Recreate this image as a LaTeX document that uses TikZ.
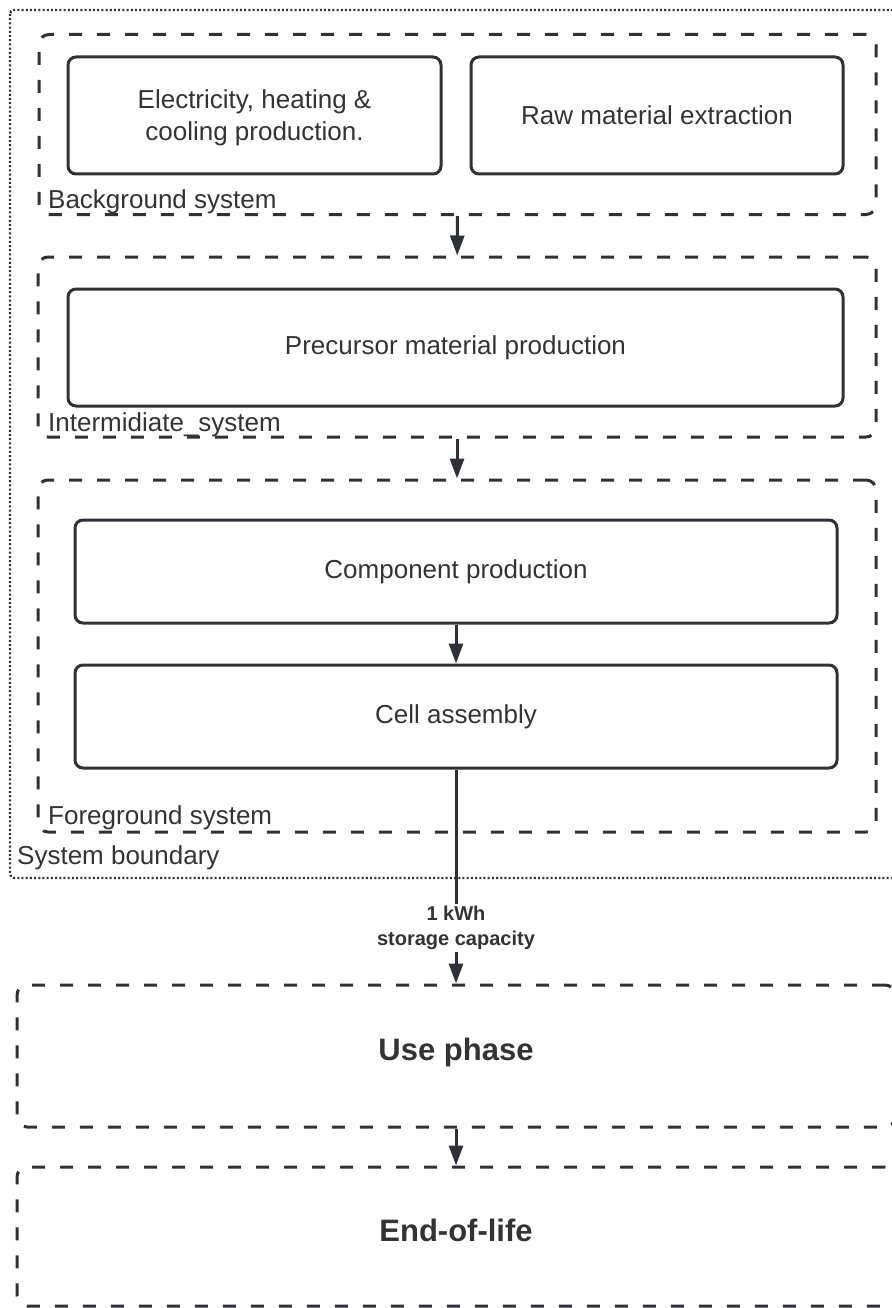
\documentclass[tikz,border=0pt]{standalone}
\usepackage{fontspec}
\setmainfont{Liberation Sans}
\usetikzlibrary{arrows.meta}
\definecolor{ink}{HTML}{2E3138}
\definecolor{txt}{HTML}{333333}
\begin{document}
\begin{tikzpicture}[x=1pt,y=-1pt,
  proc/.style={draw=ink, line width=3pt, rounded corners=8pt, text=txt,
    font=\fontsize{26}{32}\selectfont, align=center, inner sep=0pt},
  group/.style={draw=ink, line width=3pt, dash pattern=on 13pt off 15pt,
    rounded corners=10pt, inner sep=0pt},
  phase/.style={group, text=txt, font=\bfseries\fontsize{31}{37}\selectfont},
  bound/.style={draw=ink, line width=2.4pt, dash pattern=on 2pt off 2.2pt,
    rounded corners=4pt},
  grouplabel/.style={anchor=base west, text=txt,
    font=\fontsize{26}{32}\selectfont, inner sep=0pt},
  flow/.style={draw=ink, line width=3pt, -{Triangle[width=14pt,length=20pt]}},
]
\useasboundingbox (0,0) rectangle (891,1308);

% system boundary (dotted)
\draw[bound] (10,10) rectangle (905,878);
\node[grouplabel] (sblabel) at (17,864) {System boundary};

% background system
\node[group, minimum width=837, minimum height=180] (bg) at (457.5,124.5) {};
\node[proc, minimum width=373, minimum height=117] (elec) at (254.5,115.5) {};
\node[text=txt, font=\fontsize{26}{32}\selectfont, align=center, inner sep=0pt]
  (electext) at (254.5,117.5) {Electricity, heating \&\\cooling production.};
\node[proc, minimum width=372, minimum height=117] (raw) at (657,115.5)
  {Raw material extraction};
\node[grouplabel] (bglabel) at (48,208) {Background system};

% intermediate system
\node[group, minimum width=838, minimum height=180] (im) at (457,347) {};
\node[proc, minimum width=775, minimum height=117] (prec) at (455.5,347.5)
  {Precursor material production};
\node[grouplabel] (imlabel) at (48,431) {Intermidiate\_system};

% foreground system
\node[group, minimum width=838, minimum height=352] (fg) at (457,656) {};
\node[proc, minimum width=762, minimum height=103] (comp) at (456,571.5)
  {Component production};
\node[proc, minimum width=762, minimum height=103] (cell) at (456,716.5)
  {Cell assembly};
\node[grouplabel] (fglabel) at (48,824) {Foreground system};

% life-cycle phases
\node[phase, minimum width=878, minimum height=142] (use) at (456,1056) {};
\node[phase, draw=none] (usetext) at (456,1052) {Use phase};
\node[phase, minimum width=878, minimum height=139] (eol) at (456,1236.5) {};
\node[phase, draw=none] (eoltext) at (456,1230) {End-of-life};

% flows
\draw[flow] (bg) -- (im);
\draw[flow] (im) -- (fg);
\draw[flow] (comp) -- (cell);
\draw[flow] (cell) -- node[pos=0.74, fill=white, text=txt, align=center,
  inner sep=2pt, font=\bfseries\fontsize{20}{25}\selectfont]
  {1 kWh\\storage capacity} (use);
\draw[flow] (use) -- (eol);
\end{tikzpicture}
\end{document}
